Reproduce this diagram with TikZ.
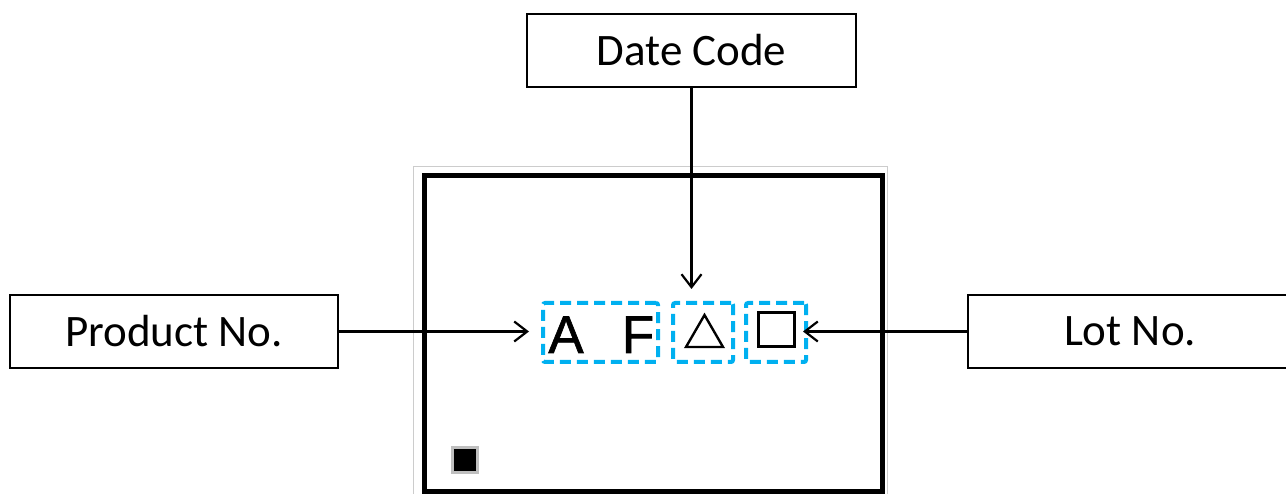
\documentclass[tikz,border=0pt]{standalone}
\usepackage{fontspec}
\setmainfont{Carlito}
\newfontfamily\arialfont[FakeBold=1.2]{Liberation Sans}
\usetikzlibrary{arrows.meta}
\begin{document}
\begin{tikzpicture}[x=1pt,y=-1pt,
  labelbox/.style={draw=black,line width=2.2pt,inner sep=0pt,font=\fontsize{45}{50}\selectfont},
  dashbox/.style={draw={rgb,255:red,0;green,176;blue,240},line width=4pt,dash pattern=on 11pt off 6pt,rounded corners=2pt,inner sep=0pt},
  conn/.style={line width=2.2pt,-{Straight Barb[length=13pt,width=20pt,line width=2.2pt]}}]
\useasboundingbox (0,0) rectangle (1286,494);
% outer light frame
\draw[gray!40,line width=1pt] (413,167) -- (413,500) (413,167) -- (887,167) -- (887,500);
% thick device outline
\draw[line width=5pt] (424.5,500) -- (424.5,175.5) -- (882.5,175.5) -- (882.5,500);
\draw[line width=5pt] (422,491.5) -- (885,491.5);
% small black square
\fill[gray!50] (451,446) rectangle (479,474);
\fill[black] (454,449) rectangle (476,471);
% label boxes
\node[labelbox,minimum width=329pt,minimum height=73pt] (dc) at (691.5,50.5) {Date Code};
\node[labelbox,minimum width=328pt,minimum height=73pt] (pn) at (174,331.5) {Product No.};
\node[labelbox,minimum width=320pt,minimum height=73pt,anchor=west] (ln) at (967,331.5) {\hspace*{4pt}Lot No.};
% dashed marking boxes
\node[dashbox,minimum width=115pt,minimum height=59pt] (b1) at (600.5,332.5) {};
\node[dashbox,minimum width=60pt,minimum height=59pt] (b2) at (703,332.5) {};
\node[dashbox,minimum width=60pt,minimum height=59pt] (b3) at (776,332.5) {};
% marking characters
\node[font=\arialfont\fontsize{53}{55}\selectfont,inner sep=0pt,anchor=base] (ca) at (566,353) {A};
\node[font=\arialfont\fontsize{53}{55}\selectfont,inner sep=0pt,anchor=base] (cf) at (638,353) {F};
\draw[line width=2.4pt,line join=miter] (686,347) -- (704.5,315) -- (723,347) -- cycle;
\draw[line width=3pt] (758.5,312.5) rectangle (794.5,346.5);
% connectors
\coordinate (t2) at (691.5,289);
\coordinate (t1) at (529,331.5);
\coordinate (t3) at (803,331.5);
\draw[conn] (dc.south -| t2) -- (t2);
\draw[conn] (pn.east) -- (t1);
\draw[conn] (ln.west) -- (t3);
\end{tikzpicture}
\end{document}
